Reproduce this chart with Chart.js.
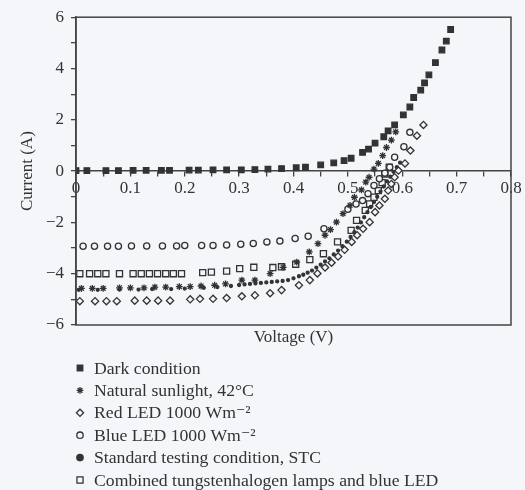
<!DOCTYPE html>
<html>
<head>
<meta charset="utf-8">
<script src="https://cdn.jsdelivr.net/npm/chart.js@4.4.1/dist/chart.umd.min.js"></script>
<style>
  html, body { margin: 0; padding: 0; background: #f4f6fa; }
  #wrap { width: 525px; height: 490px; position: relative; }
</style>
</head>
<body>
<div id="wrap"><canvas id="ivChart"></canvas></div>
<script>
// series labels
const seriesLabels = [
    "Dark condition",
    "Natural sunlight, 42\u00b0C",
    "Red LED 1000 Wm\u207b\u00b2",
    "Blue LED 1000 Wm\u207b\u00b2",
    "Standard testing condition, STC",
    "Combined tungstenhalogen lamps and blue LED"
]

// Dark condition (V, A)
const darkV = [0, 0.02, 0.055, 0.078, 0.105, 0.129, 0.157, 0.172, 0.208, 0.225, 0.252, 0.277, 0.304, 0.329, 0.353, 0.378, 0.405, 0.422, 0.45, 0.474, 0.493, 0.506, 0.527, 0.538, 0.55, 0.566, 0.574, 0.586, 0.602, 0.614, 0.621, 0.634, 0.641, 0.649, 0.661, 0.673, 0.681, 0.689]
const darkI = [0.02, 0.02, 0.02, 0.02, 0.03, 0.03, 0.03, 0.03, 0.04, 0.04, 0.05, 0.05, 0.05, 0.06, 0.08, 0.1, 0.13, 0.15, 0.24, 0.32, 0.41, 0.5, 0.73, 0.86, 1.09, 1.34, 1.57, 1.8, 2.19, 2.5, 2.87, 3.16, 3.44, 3.75, 4.23, 4.72, 5.07, 5.52]

// Natural sunlight, 42 C
const sunV = [0.01, 0.03, 0.05, 0.08, 0.1, 0.125, 0.145, 0.165, 0.19, 0.21, 0.23, 0.255, 0.275, 0.305, 0.329, 0.357, 0.381, 0.406, 0.429, 0.445, 0.458, 0.468, 0.479, 0.491, 0.504, 0.512, 0.525, 0.533, 0.539, 0.548, 0.556, 0.564, 0.571, 0.58, 0.588]
const sunI = [-4.57, -4.57, -4.57, -4.55, -4.55, -4.55, -4.52, -4.52, -4.5, -4.5, -4.48, -4.45, -4.4, -4.25, -4.25, -4.0, -3.75, -3.55, -3.15, -2.83, -2.5, -2.28, -1.99, -1.66, -1.34, -1.02, -0.73, -0.43, -0.24, 0.08, 0.3, 0.6, 0.92, 1.21, 1.53]

// Red LED 1000 W/m2
const redV = [0.007, 0.035, 0.056, 0.075, 0.108, 0.13, 0.151, 0.173, 0.21, 0.228, 0.252, 0.277, 0.305, 0.329, 0.357, 0.378, 0.41, 0.43, 0.444, 0.458, 0.47, 0.482, 0.494, 0.507, 0.517, 0.528, 0.54, 0.55, 0.558, 0.568, 0.574, 0.58, 0.586, 0.593, 0.605, 0.615, 0.627, 0.639]
const redI = [-5.07, -5.07, -5.07, -5.07, -5.05, -5.05, -5.05, -5.05, -5.0, -4.98, -4.98, -4.95, -4.88, -4.84, -4.76, -4.64, -4.45, -4.25, -3.99, -3.76, -3.57, -3.33, -3.07, -2.76, -2.5, -2.25, -1.99, -1.6, -1.34, -1.08, -0.76, -0.5, -0.24, 0.02, 0.3, 0.8, 1.38, 1.8]

// Blue LED 1000 W/m2
const blueV = [0.013, 0.034, 0.058, 0.078, 0.102, 0.13, 0.159, 0.185, 0.2, 0.231, 0.252, 0.277, 0.303, 0.326, 0.351, 0.375, 0.403, 0.427, 0.456, 0.5, 0.515, 0.527, 0.537, 0.548, 0.558, 0.568, 0.577, 0.586, 0.603, 0.614]
const blueI = [-2.93, -2.93, -2.93, -2.93, -2.92, -2.92, -2.92, -2.92, -2.9, -2.9, -2.9, -2.88, -2.85, -2.82, -2.76, -2.73, -2.63, -2.54, -2.25, -1.49, -1.28, -1.15, -0.88, -0.56, -0.3, -0.08, 0.15, 0.54, 0.95, 1.51]

// Standard testing condition, STC
const stcV = [0.005, 0.04, 0.08, 0.115, 0.14, 0.175, 0.2, 0.235, 0.26, 0.285, 0.3, 0.31, 0.32, 0.33, 0.34, 0.35, 0.36, 0.37, 0.38, 0.39, 0.4, 0.41, 0.418, 0.426, 0.434, 0.442, 0.45, 0.458, 0.466, 0.474, 0.482, 0.49, 0.498, 0.505, 0.512, 0.518, 0.524, 0.53, 0.536, 0.542, 0.548, 0.554, 0.56, 0.566, 0.572, 0.578, 0.584, 0.59, 0.596]
const stcI = [-4.63, -4.63, -4.62, -4.62, -4.6, -4.6, -4.58, -4.55, -4.52, -4.48, -4.44, -4.42, -4.4, -4.38, -4.36, -4.34, -4.32, -4.3, -4.28, -4.25, -4.18, -4.1, -4.04, -3.96, -3.88, -3.76, -3.65, -3.52, -3.4, -3.25, -3.1, -2.93, -2.75, -2.57, -2.38, -2.2, -2.0, -1.8, -1.6, -1.4, -1.2, -1.0, -0.8, -0.6, -0.4, -0.22, -0.03, 0.15, 0.33]

// Combined tungstenhalogen lamps and blue LED
const combV = [0.007, 0.025, 0.04, 0.055, 0.08, 0.105, 0.12, 0.135, 0.15, 0.165, 0.179, 0.194, 0.233, 0.249, 0.277, 0.301, 0.327, 0.362, 0.378, 0.404, 0.43, 0.455, 0.481, 0.506, 0.516, 0.532, 0.54, 0.548, 0.556, 0.563, 0.568, 0.576]
const combI = [-4.0, -4.0, -4.0, -4.0, -4.0, -4.0, -4.0, -4.0, -4.0, -4.0, -4.0, -4.0, -3.96, -3.94, -3.9, -3.8, -3.75, -3.76, -3.73, -3.63, -3.45, -3.22, -2.76, -2.31, -1.92, -1.53, -1.28, -1.02, -0.76, -0.45, -0.12, 0.15]

const ink = "#333333"
const paper = "#f4f6fa"

function pts(vs, is) {
    return vs.map((v, i) => ({ x: v, y: is[i] }))
}

function series(label, vs, is, style, radius, filled) {
    return {
        label: label,
        data: pts(vs, is),
        showLine: false,
        pointStyle: style,
        pointRadius: radius,
        pointHoverRadius: radius,
        pointBorderWidth: 1.3,
        borderColor: ink,
        backgroundColor: filled ? ink : paper,
        pointBackgroundColor: filled ? ink : paper
    }
}

// box around the plot area
const frame = {
    id: "frame",
    afterDatasetsDraw(chart) {
        const a = chart.chartArea
        const ctx = chart.ctx
        ctx.save()
        ctx.strokeStyle = "#444"
        ctx.lineWidth = 1.5
        ctx.strokeRect(a.left, a.top, a.right - a.left, a.bottom - a.top)
        ctx.restore()
    }
}

// one legend entry per line under the plot
const listLegend = {
    id: "listLegend",
    afterDraw(chart) {
        const ctx = chart.ctx
        ctx.save()
        ctx.font = '17.7px "Liberation Serif", "DejaVu Serif", serif'
        ctx.textBaseline = "middle"
        chart.data.datasets.forEach((ds, i) => {
            const y = 368 + i * 22.4
            ctx.fillStyle = ds.pointBackgroundColor
            ctx.strokeStyle = ds.borderColor
            ctx.lineWidth = ds.pointBorderWidth
            Chart.helpers.drawPoint(ctx, {
                pointStyle: ds.pointStyle,
                radius: Math.max(ds.pointRadius, 3.2),
                borderWidth: ds.pointBorderWidth,
                rotation: 0
            }, 80, y)
            ctx.fillStyle = ink
            ctx.fillText(ds.label, 94, y + 1)
        })
        ctx.restore()
    }
}

Chart.defaults.font.family = '"Liberation Serif", "DejaVu Serif", serif'
Chart.defaults.font.size = 17
Chart.defaults.color = ink
Chart.defaults.devicePixelRatio = 1

const ctx = document.getElementById("ivChart")
new Chart(ctx, {
    type: "scatter",
    data: {
        datasets: [
            series(seriesLabels[0], darkV, darkI, "rect", 3.9, true),
            series(seriesLabels[1], sunV, sunI, "star", 3.4, false),
            series(seriesLabels[2], redV, redI, "rectRot", 3.6, false),
            series(seriesLabels[3], blueV, blueI, "circle", 3.1, false),
            series(seriesLabels[4], stcV, stcI, "circle", 1.5, true),
            series(seriesLabels[5], combV, combI, "rect", 4.3, false)
        ]
    },
    options: {
        responsive: true,
        maintainAspectRatio: false,
        animation: false,
        events: [],
        layout: {
            padding: { top: 16, right: 14, bottom: 135, left: 0 }
        },
        plugins: {
            legend: { display: false },
            tooltip: { enabled: false }
        },
        scales: {
            x: {
                type: "linear",
                position: { y: 0 },
                min: 0,
                max: 0.8,
                ticks: {
                    stepSize: 0.05,
                    autoSkip: false,
                    maxRotation: 0,
                    padding: 2,
                    callback: (v) => {
                        const n = Math.round(v * 100)
                        if (n % 10 !== 0) return ""
                        return n === 0 ? "0" : (n / 100).toFixed(1)
                    }
                },
                grid: {
                    drawOnChartArea: false,
                    drawTicks: true,
                    tickLength: 5,
                    color: "#444",
                    lineWidth: 1.3
                },
                border: { display: true, color: "#444", width: 1.5 }
            },
            x2: {
                type: "linear",
                position: "bottom",
                min: 0,
                max: 0.8,
                ticks: { display: false },
                grid: { display: false, drawTicks: false },
                border: { display: false },
                title: {
                    display: true,
                    text: "Voltage (V)",
                    padding: { top: 0, bottom: 7 }
                },
                afterFit: (scale) => { scale.height = 30 }
            },
            y: {
                type: "linear",
                min: -6,
                max: 6,
                ticks: {
                    stepSize: 1,
                    autoSkip: false,
                    padding: 7,
                    callback: (v) => {
                        if (v % 2 !== 0) return ""
                        return v < 0 ? "\u2212" + Math.abs(v) : String(v)
                    }
                },
                grid: {
                    drawOnChartArea: false,
                    drawTicks: true,
                    tickLength: 5,
                    color: "#444",
                    lineWidth: 1.3
                },
                border: { display: true, color: "#444", width: 1.5 },
                title: {
                    display: true,
                    text: "Current (A)",
                    padding: { top: 17, bottom: 0 }
                },
                afterFit: (scale) => { scale.width = 76 }
            }
        }
    },
    plugins: [frame, listLegend]
})
</script>
</body>
</html>
